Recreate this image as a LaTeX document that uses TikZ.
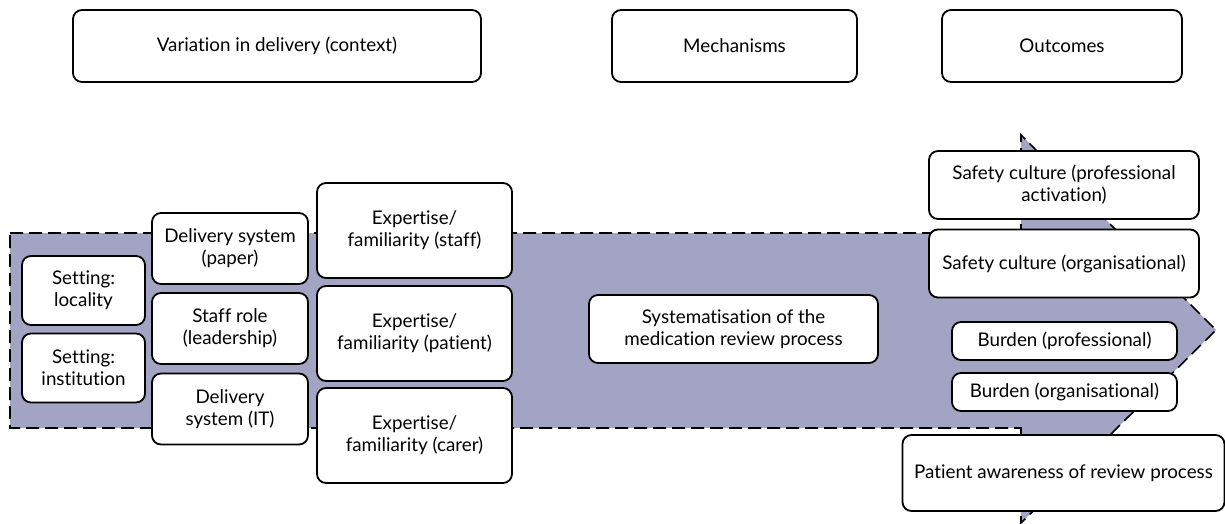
\documentclass[tikz,border=0pt]{standalone}
\usepackage{fontspec}
\setmainfont{Lato}[Ligatures=NoCommon]
\usetikzlibrary{positioning}

\definecolor{flow}{HTML}{A3A3C4}

\tikzstyle{box} = [rectangle, rounded corners=4.5pt,
line width=0.9pt,
align=center,
inner sep=2pt,
draw=black,
fill=white,
font=\fontsize{9.4}{11}\selectfont]
\tikzstyle{head} = [box, minimum height=36pt]
\tikzstyle{setting} = [box, minimum width=61.5pt, minimum height=34.5pt]
\tikzstyle{system} = [box, minimum width=78pt, minimum height=35.5pt]
\tikzstyle{expert} = [box, minimum width=97.5pt, minimum height=47.5pt]
\tikzstyle{mech} = [box, minimum width=144.5pt, minimum height=34pt]
\tikzstyle{safety} = [box, minimum width=135pt, minimum height=34pt]
\tikzstyle{burden} = [box, minimum width=112.5pt, minimum height=19pt]

\begin{document}
\begin{tikzpicture}[x=0.5pt, y=-0.5pt, node distance=40pt]
\useasboundingbox (0,0) rectangle (1225,524);

% big arrow behind the boxes
\fill [flow] (10,233) -- (1021,233) -- (1021,135) -- (1216,330) -- (1021,523) -- (1021,428) -- (10,428) -- cycle;
\draw [line width=0.8pt, dash pattern=on 6.5pt off 3pt] (10,233) -- (1021,233) -- (1021,135) -- (1216,330) -- (1021,523) -- (1021,428) -- (10,428) -- cycle;

% column headings
\node (context) [head, minimum width=204pt] at (277,46) {Variation in delivery (context)};
\node (mechs) [head, minimum width=122.5pt] at (734.5,46) {Mechanisms};
\node (outs) [head, minimum width=120pt] at (1062,46) {Outcomes};

% context
\node (locality) [setting] at (83.5,290.5) {Setting:\\locality};
\node (institution) [setting, below of=locality, yshift=1.25pt] {Setting:\\institution};

\node (paper) [system] at (230,248.5) {Delivery system\\(paper)};
\node (role) [system, below of=paper] {Staff role\\(leadership)};
\node (it) [system, below of=role, yshift=-0.25pt] {Delivery\\system (IT)};

\node (staff) [expert] at (414.5,230.5) {Expertise/\\familiarity (staff)};
\node (patient) [expert, below of=staff, yshift=-11.5pt] {Expertise/\\familiarity (patient)};
\node (carer) [expert, below of=patient, yshift=-11pt] {Expertise/\\familiarity (carer)};

% mechanism
\node (system) [mech] at (733.5,329) {Systematisation of the\\medication review process};

% outcomes
\node (activation) [safety] at (1064,185) {Safety culture (professional\\activation)};
\node (organisation) [safety, below of=activation, yshift=0.75pt] {Safety culture (organisational)};
\node (profburden) [burden] at (1064.5,341) {Burden (professional)};
\node (orgburden) [burden, below of=profburden, yshift=14.5pt] {Burden (organisational)};
\node (awareness) [box, minimum width=161pt, minimum height=38pt] at (1063.5,473) {Patient awareness of review process};
\end{tikzpicture}
\end{document}
